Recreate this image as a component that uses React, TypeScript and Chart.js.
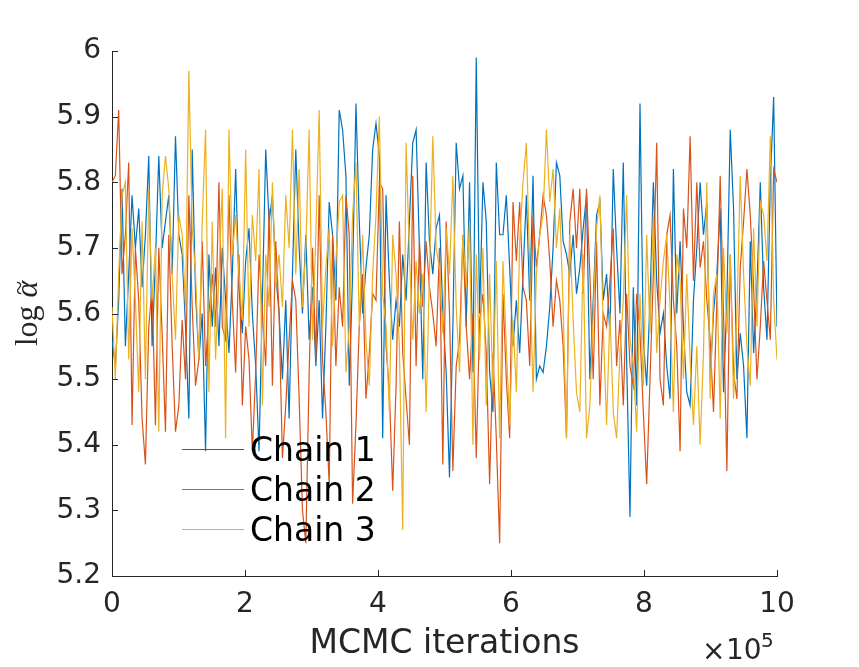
import React, { useEffect, useRef } from "react";
import { Chart, registerables } from "chart.js";

Chart.register(...registerables);

const chainNames = ["Chain 1", "Chain 2", "Chain 3"];
const chainColors = ["#0072BD", "#D95319", "#EDB120"];
const totalIterations = 1000000;
const xTickValues = [0, 200000, 400000, 600000, 800000, 1000000];
const yTickValues = [5.2, 5.3, 5.4, 5.5, 5.6, 5.7, 5.8, 5.9, 6];

const chain1 = [
  5.56, 5.52, 5.62, 5.79, 5.55, 5.66, 5.78, 5.70, 5.76, 5.64,
  5.72, 5.84, 5.55, 5.68, 5.84, 5.70, 5.74, 5.78, 5.66, 5.87,
  5.72, 5.69, 5.58, 5.44, 5.85, 5.63, 5.53, 5.60, 5.39, 5.69,
  5.58, 5.67, 5.55, 5.70, 5.62, 5.54, 5.66, 5.82, 5.64, 5.57,
  5.68, 5.73, 5.60, 5.52, 5.39, 5.62, 5.85, 5.74, 5.78, 5.66,
  5.60, 5.50, 5.62, 5.44, 5.66, 5.85, 5.70, 5.60, 5.72, 5.56,
  5.64, 5.52, 5.62, 5.44, 5.58, 5.77, 5.72, 5.62, 5.91, 5.88,
  5.81, 5.49, 5.66, 5.92, 5.74, 5.60, 5.67, 5.72, 5.85, 5.89,
  5.84, 5.41, 5.78, 5.65, 5.56, 5.62, 5.58, 5.69, 5.62, 5.74,
  5.86, 5.88, 5.70, 5.50, 5.83, 5.71, 5.66, 5.73, 5.75, 5.60,
  5.51, 5.35, 5.58, 5.86, 5.79, 5.81, 5.58, 5.80, 5.51, 5.99,
  5.60, 5.80, 5.74, 5.51, 5.45, 5.83, 5.72, 5.72, 5.78, 5.67,
  5.55, 5.62, 5.54, 5.66, 5.78, 5.62, 5.81, 5.50, 5.52, 5.51,
  5.55, 5.61, 5.70, 5.83, 5.81, 5.71, 5.69, 5.66, 5.72, 5.63,
  5.67, 5.73, 5.78, 5.50, 5.62, 5.75, 5.77, 5.62, 5.66, 5.57,
  5.82, 5.70, 5.60, 5.83, 5.53, 5.29, 5.64, 5.46, 5.92, 5.56,
  5.49, 5.62, 5.80, 5.65, 5.57, 5.60, 5.52, 5.47, 5.82, 5.60,
  5.71, 5.58, 5.48, 5.46, 5.62, 5.70, 5.80, 5.72, 5.77, 5.50,
  5.60, 5.66, 5.76, 5.48, 5.62, 5.88, 5.76, 5.50, 5.57, 5.52,
  5.41, 5.71, 5.54, 5.64, 5.80, 5.64, 5.56, 5.80, 5.93, 5.58,
];

const chain2 = [
  5.80, 5.81, 5.91, 5.66, 5.72, 5.83, 5.43, 5.70, 5.62, 5.44,
  5.37, 5.58, 5.64, 5.43, 5.70, 5.57, 5.42, 5.72, 5.55, 5.42,
  5.46, 5.59, 5.50, 5.78, 5.61, 5.49, 5.53, 5.71, 5.52, 5.60,
  5.66, 5.58, 5.80, 5.58, 5.56, 5.78, 5.62, 5.51, 5.69, 5.46,
  5.58, 5.53, 5.39, 5.51, 5.69, 5.60, 5.52, 5.76, 5.49, 5.71,
  5.60, 5.38, 5.46, 5.56, 5.65, 5.62, 5.47, 5.30, 5.25, 5.51,
  5.70, 5.53, 5.78, 5.53, 5.45, 5.34, 5.72, 5.52, 5.64, 5.58,
  5.78, 5.72, 5.31, 5.43, 5.58, 5.66, 5.47, 5.54, 5.63, 5.62,
  5.80, 5.79, 5.55, 5.48, 5.33, 5.49, 5.74, 5.54, 5.47, 5.40,
  5.81, 5.52, 5.71, 5.61, 5.71, 5.64, 5.60, 5.55, 5.70, 5.37,
  5.74, 5.60, 5.36, 5.52, 5.56, 5.72, 5.58, 5.50, 5.60, 5.38,
  5.59, 5.63, 5.54, 5.34, 5.54, 5.41, 5.25, 5.63, 5.50, 5.41,
  5.77, 5.68, 5.77, 5.64, 5.62, 5.52, 5.75, 5.67, 5.72, 5.78,
  5.75, 5.68, 5.58, 5.65, 5.62, 5.55, 5.41, 5.74, 5.79, 5.70,
  5.79, 5.63, 5.79, 5.66, 5.50, 5.71, 5.46, 5.60, 5.58, 5.65,
  5.73, 5.52, 5.59, 5.46, 5.63, 5.52, 5.49, 5.63, 5.57, 5.45,
  5.34, 5.50, 5.66, 5.86, 5.50, 5.46, 5.72, 5.75, 5.62, 5.55,
  5.39, 5.76, 5.70, 5.87, 5.65, 5.80, 5.67, 5.71, 5.62, 5.56,
  5.45, 5.62, 5.81, 5.60, 5.36, 5.69, 5.51, 5.47, 5.67, 5.74,
  5.82, 5.75, 5.64, 5.50, 5.58, 5.68, 5.62, 5.56, 5.82, 5.80,
];

const chain3 = [
  5.61, 5.50, 5.66, 5.78, 5.80, 5.53, 5.73, 5.62, 5.48, 5.74,
  5.50, 5.79, 5.62, 5.70, 5.42, 5.78, 5.84, 5.79, 5.66, 5.56,
  5.75, 5.72, 5.61, 5.97, 5.73, 5.66, 5.53, 5.74, 5.88, 5.48,
  5.74, 5.53, 5.66, 5.79, 5.41, 5.88, 5.69, 5.75, 5.66, 5.59,
  5.85, 5.58, 5.75, 5.68, 5.82, 5.46, 5.69, 5.61, 5.80, 5.64,
  5.69, 5.61, 5.78, 5.70, 5.88, 5.66, 5.82, 5.61, 5.70, 5.88,
  5.56, 5.72, 5.91, 5.58, 5.67, 5.73, 5.55, 5.68, 5.77, 5.78,
  5.51, 5.58, 5.75, 5.83, 5.58, 5.72, 5.56, 5.49, 5.66, 5.75,
  5.90, 5.63, 5.58, 5.45, 5.72, 5.66, 5.55, 5.27, 5.86, 5.69,
  5.56, 5.68, 5.60, 5.66, 5.45, 5.66, 5.87, 5.70, 5.67, 5.57,
  5.73, 5.66, 5.81, 5.61, 5.51, 5.72, 5.64, 5.74, 5.40, 5.69,
  5.53, 5.70, 5.46, 5.66, 5.48, 5.68, 5.41, 5.68, 5.55, 5.43,
  5.59, 5.48, 5.71, 5.80, 5.86, 5.67, 5.48, 5.66, 5.72, 5.75,
  5.88, 5.77, 5.82, 5.70, 5.76, 5.61, 5.41, 5.72, 5.59, 5.48,
  5.45, 5.69, 5.41, 5.46, 5.60, 5.73, 5.78, 5.58, 5.43, 5.60,
  5.45, 5.41, 5.54, 5.62, 5.78, 5.56, 5.52, 5.42, 5.63, 5.49,
  5.72, 5.57, 5.75, 5.54, 5.62, 5.68, 5.72, 5.61, 5.45, 5.69,
  5.65, 5.50, 5.66, 5.53, 5.43, 5.55, 5.40, 5.54, 5.80, 5.47,
  5.63, 5.66, 5.44, 5.70, 5.57, 5.69, 5.47, 5.60, 5.81, 5.66,
  5.55, 5.49, 5.73, 5.58, 5.77, 5.75, 5.68, 5.87, 5.62, 5.53,
];

const chains = [chain1, chain2, chain3];

const AXIS_COLOR = "#262626";
const SANS = "'DejaVu Sans', sans-serif";
const SERIF = "'Liberation Serif', 'DejaVu Serif', serif";

const decorPlugin = {
  id: "matlabDecor",
  afterDraw(chart: any) {
    const ctx: CanvasRenderingContext2D = chart.ctx;
    const xs = chart.scales.x;
    const ys = chart.scales.y;
    const area = chart.chartArea;
    ctx.save();
    // inward ticks
    ctx.strokeStyle = AXIS_COLOR;
    ctx.lineWidth = 1;
    ctx.beginPath();
    xTickValues.forEach((v) => {
      const px = Math.round(xs.getPixelForValue(v)) + 0.5;
      ctx.moveTo(px, area.bottom);
      ctx.lineTo(px, area.bottom - 6);
    });
    yTickValues.forEach((v) => {
      const py = Math.round(ys.getPixelForValue(v)) + 0.5;
      ctx.moveTo(area.left, py);
      ctx.lineTo(area.left + 6, py);
    });
    ctx.stroke();

    // x10^5 multiplier
    ctx.fillStyle = AXIS_COLOR;
    ctx.textBaseline = "alphabetic";
    ctx.textAlign = "left";
    ctx.font = `28px ${SANS}`;
    ctx.fillText("\u00D7", 702, 660);
    ctx.fillText("10", 726, 659);
    ctx.font = `20px ${SANS}`;
    ctx.fillText("5", 761, 647);

    // x axis title
    ctx.font = `33px ${SANS}`;
    ctx.textAlign = "center";
    ctx.fillText("MCMC iterations", (area.left + area.right) / 2, 653);

    // y axis title (rotated)
    ctx.save();
    ctx.translate(37, (area.top + area.bottom) / 2);
    ctx.rotate(-Math.PI / 2);
    ctx.textAlign = "left";
    const logTxt = "log ";
    ctx.font = `32px ${SERIF}`;
    const w1 = ctx.measureText(logTxt).width;
    ctx.font = `italic 32px ${SERIF}`;
    const w2 = ctx.measureText("\u03B1").width;
    const start = -(w1 + w2) / 2;
    ctx.font = `32px ${SERIF}`;
    ctx.fillText(logTxt, start, 0);
    ctx.font = `italic 32px ${SERIF}`;
    ctx.fillText("\u03B1", start + w1, 0);
    ctx.font = `26px ${SERIF}`;
    ctx.textAlign = "center";
    ctx.fillText("~", start + w1 + w2 / 2 + 1, -10);
    ctx.restore();

    // legend
    const lx0 = 182;
    const lx1 = 244;
    const ly0 = 449;
    const lstep = 40;
    ctx.textAlign = "left";
    ctx.font = `33px ${SANS}`;
    chainNames.forEach((name, i) => {
      const y = ly0 + i * lstep;
      ctx.strokeStyle = chainColors[i];
      ctx.lineWidth = 1;
      ctx.beginPath();
      ctx.moveTo(lx0, y + 0.5);
      ctx.lineTo(lx1, y + 0.5);
      ctx.stroke();
      ctx.fillStyle = "#000000";
      ctx.fillText(name, 250, y + 12);
    });
    ctx.restore();
  },
};

export default function App() {
  const canvasRef = useRef<HTMLCanvasElement | null>(null);

  useEffect(() => {
    document.body.style.margin = "0";
    const canvas = canvasRef.current;
    if (!canvas) return;
    const n = chain1.length;
    const datasets = chains.map((vals, ci) => ({
      label: chainNames[ci],
      data: vals.map((v, i) => ({ x: (i * totalIterations) / (n - 1), y: v })),
      borderColor: chainColors[ci],
      backgroundColor: chainColors[ci],
      borderWidth: 1.2,
      pointRadius: 0,
      tension: 0,
      fill: false,
      order: 2 - ci,
    }));
    const chart = new Chart(canvas, {
      type: "line",
      data: { datasets },
      options: {
        animation: false,
        responsive: false,
        maintainAspectRatio: false,
        devicePixelRatio: 1,
        layout: { padding: { top: 51, right: 82, left: 0, bottom: 0 } },
        plugins: {
          legend: { display: false },
          tooltip: { enabled: false },
        },
        scales: {
          x: {
            type: "linear",
            min: 0,
            max: totalIterations,
            afterFit: (s: any) => {
              s.height = 91;
            },
            afterBuildTicks: (s: any) => {
              s.ticks = xTickValues.map((v) => ({ value: v }));
            },
            ticks: {
              callback: (v: any) => String(Math.round(Number(v) / 100000)),
              font: { family: SANS, size: 28 },
              color: AXIS_COLOR,
              padding: 12,
              maxRotation: 0,
              autoSkip: false,
            },
            grid: { display: false, drawTicks: false },
            border: { display: true, color: AXIS_COLOR, width: 1 },
          },
          y: {
            type: "linear",
            min: 5.2,
            max: 6,
            afterFit: (s: any) => {
              s.width = 112;
            },
            afterBuildTicks: (s: any) => {
              s.ticks = yTickValues.map((v) => ({ value: v }));
            },
            ticks: {
              callback: (v: any) => String(Number(Number(v).toFixed(1))),
              font: { family: SANS, size: 28 },
              color: AXIS_COLOR,
              padding: 11,
              autoSkip: false,
            },
            grid: { display: false, drawTicks: false },
            border: { display: true, color: AXIS_COLOR, width: 1 },
          },
        },
      },
      plugins: [decorPlugin],
    });
    return () => {
      chart.destroy();
    };
  }, []);

  return (
    <div style={{ width: 859, height: 667, background: "#ffffff" }}>
      <canvas ref={canvasRef} width={859} height={667} style={{ display: "block", width: 859, height: 667 }} />
    </div>
  );
}
